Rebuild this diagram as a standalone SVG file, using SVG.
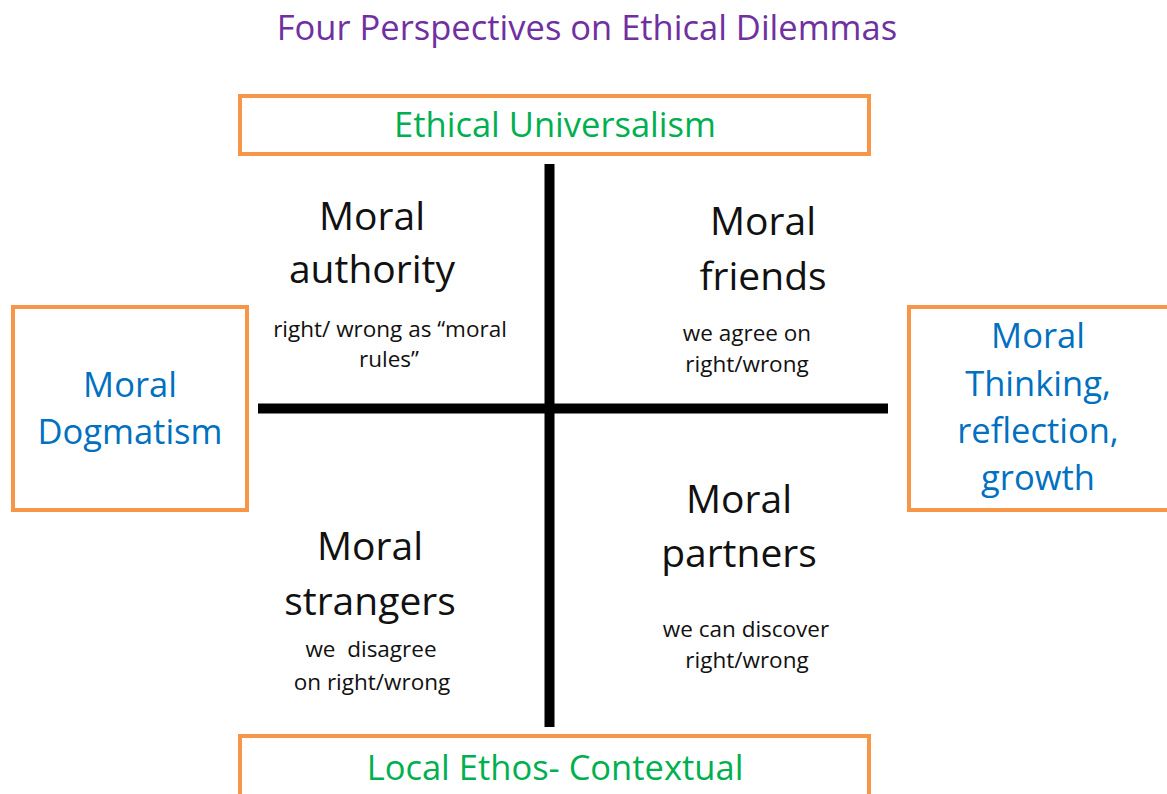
<svg xmlns="http://www.w3.org/2000/svg" width="1167" height="794" viewBox="0 0 1167 794">
<style>
  text { font-family: "Open Sans", "Noto Sans", "Liberation Sans", sans-serif; text-anchor: middle; }
  .box { fill: #ffffff; stroke: #F79646; stroke-width: 4; }
  .title { fill: #7030A0; font-size: 34.5px; }
  .green { fill: #00B050; font-size: 34.5px; }
  .blue { fill: #0070C0; font-size: 34.5px; }
  .big { fill: #111111; font-size: 39px; }
  .small { fill: #111111; font-size: 22.5px; }
  .axis { stroke: #000000; stroke-width: 10; fill: none; }
</style>
<rect width="1167" height="794" fill="#ffffff"/>
<text class="title" x="587" y="40">Four Perspectives on Ethical Dilemmas</text>

<g id="connectors">
  <line class="axis" x1="549.5" y1="164" x2="549.5" y2="727"/>
  <line class="axis" x1="258" y1="408.5" x2="888" y2="408.5"/>
</g>

<g id="node-universalism">
  <rect class="box" x="240" y="96" width="629" height="58"/>
  <text class="green" x="555" y="137">Ethical Universalism</text>
</g>

<g id="node-local">
  <rect class="box" x="240" y="736" width="629" height="70"/>
  <text class="green" x="555" y="780">Local Ethos- Contextual</text>
</g>

<g id="node-dogmatism">
  <rect class="box" x="13" y="307" width="234" height="203"/>
  <text class="blue" x="130" y="397">Moral</text>
  <text class="blue" x="130" y="444">Dogmatism</text>
</g>

<g id="node-thinking">
  <rect class="box" x="909" y="307" width="270" height="203"/>
  <text class="blue" x="1038" y="348">Moral</text>
  <text class="blue" x="1038" y="395.5">Thinking,</text>
  <text class="blue" x="1038" y="443">reflection,</text>
  <text class="blue" x="1038" y="490">growth</text>
</g>

<g id="node-authority">
  <text class="big" x="372" y="230">Moral</text>
  <text class="big" x="372" y="283">authority</text>
  <text class="small" x="390" y="337">right/ wrong as “moral</text>
  <text class="small" x="389" y="367">rules”</text>
</g>

<g id="node-friends">
  <text class="big" x="763" y="235">Moral</text>
  <text class="big" x="763" y="290">friends</text>
  <text class="small" x="747" y="341">we agree on</text>
  <text class="small" x="747" y="372">right/wrong</text>
</g>

<g id="node-strangers">
  <text class="big" x="370" y="560">Moral</text>
  <text class="big" x="370" y="615">strangers</text>
  <text class="small" x="371" y="657" xml:space="preserve">we  disagree</text>
  <text class="small" x="372" y="690">on right/wrong</text>
</g>

<g id="node-partners">
  <text class="big" x="739" y="513">Moral</text>
  <text class="big" x="739" y="567">partners</text>
  <text class="small" x="746" y="637">we can discover</text>
  <text class="small" x="747" y="668">right/wrong</text>
</g>
</svg>
